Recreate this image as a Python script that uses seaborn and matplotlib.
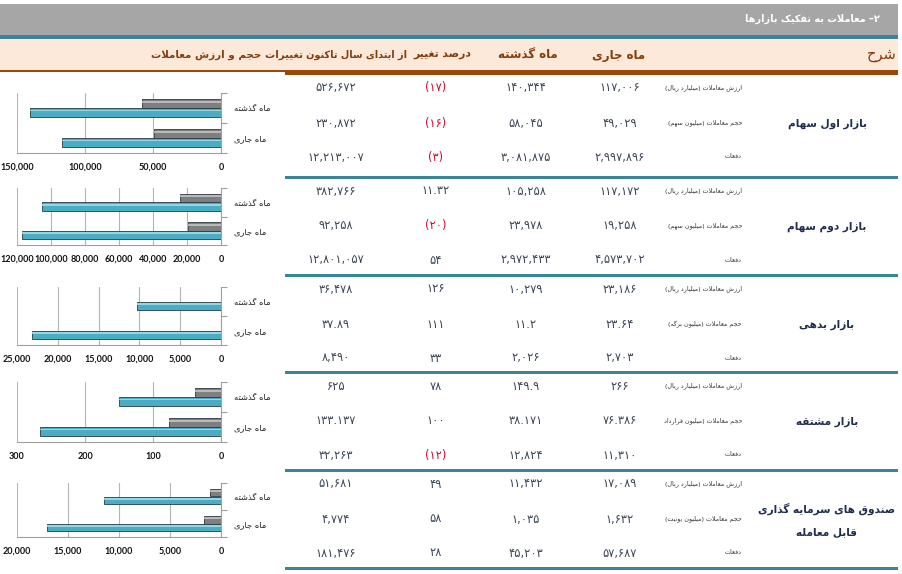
import re
import matplotlib
matplotlib.use("Agg")
import matplotlib.pyplot as plt
import matplotlib.patches as mpatches
from matplotlib.ticker import FuncFormatter, MultipleLocator, FixedLocator
import seaborn as sns
import pandas as pd

# ---------------- data ----------------
title = "۲– معاملات به تفکیک بازارها"
headers = ["شرح", "ماه جاری", "ماه گذشته", "درصد تغییر", "از ابتدای سال تاکنون", "تغییرات حجم و ارزش معاملات"]
sections = ["بازار اول سهام", "بازار دوم سهام", "بازار بدهی", "بازار مشتقه", "صندوق های سرمایه گذاری\nقابل معامله"]
value_label = "ارزش معاملات (میلیارد ریال)"
volume_labels = ["حجم معاملات (میلیون سهم)", "حجم معاملات (میلیون سهم)", "حجم معاملات (میلیون برگه)",
                 "حجم معاملات (میلیون قرارداد", "حجم معاملات (میلیون یونیت)"]
count_label = "دفعات"
periods = ["ماه گذشته", "ماه جاری"]

cur_value = [117006, 117172, 23186, 266, 17089]
last_value = [140344, 105258, 10279, 149.9, 11432]
pct_value = [-17, 11.32, 126, 78, 49]
ytd_value = [526672, 382766, 36478, 625, 51681]

cur_volume = [49029, 19258, 23.64, 76.386, 1632]
last_volume = [58045, 23978, 11.2, 38.171, 1035]
pct_volume = [-16, -20, 111, 100, 58]
ytd_volume = [230872, 92258, 37.89, 133.137, 4774]

cur_count = [2997896, 4573702, 2703, 11310, 57687]
last_count = [3081875, 2972433, 2026, 12824, 45203]
pct_count = [-3, 54, 33, -12, 28]
ytd_count = [12213007, 12801057, 8490, 32263, 181476]

chart_max = [150000, 120000, 25000, 300, 20000]
chart_step = [50000, 20000, 5000, 100, 5000]

# ---------------- minimal Arabic shaping + bidi ----------------
FORMS = {
    '\u0621': ('\uFE80', None, None, None),
    '\u0622': ('\uFE81', '\uFE82', None, None),
    '\u0623': ('\uFE83', '\uFE84', None, None),
    '\u0627': ('\uFE8D', '\uFE8E', None, None),
    '\u0628': ('\uFE8F', '\uFE90', '\uFE91', '\uFE92'),
    '\u067E': ('\uFB56', '\uFB57', '\uFB58', '\uFB59'),
    '\u062A': ('\uFE95', '\uFE96', '\uFE97', '\uFE98'),
    '\u062B': ('\uFE99', '\uFE9A', '\uFE9B', '\uFE9C'),
    '\u062C': ('\uFE9D', '\uFE9E', '\uFE9F', '\uFEA0'),
    '\u0686': ('\uFB7A', '\uFB7B', '\uFB7C', '\uFB7D'),
    '\u062D': ('\uFEA1', '\uFEA2', '\uFEA3', '\uFEA4'),
    '\u062E': ('\uFEA5', '\uFEA6', '\uFEA7', '\uFEA8'),
    '\u062F': ('\uFEA9', '\uFEAA', None, None),
    '\u0630': ('\uFEAB', '\uFEAC', None, None),
    '\u0631': ('\uFEAD', '\uFEAE', None, None),
    '\u0632': ('\uFEAF', '\uFEB0', None, None),
    '\u0698': ('\uFB8A', '\uFB8B', None, None),
    '\u0633': ('\uFEB1', '\uFEB2', '\uFEB3', '\uFEB4'),
    '\u0634': ('\uFEB5', '\uFEB6', '\uFEB7', '\uFEB8'),
    '\u0635': ('\uFEB9', '\uFEBA', '\uFEBB', '\uFEBC'),
    '\u0636': ('\uFEBD', '\uFEBE', '\uFEBF', '\uFEC0'),
    '\u0637': ('\uFEC1', '\uFEC2', '\uFEC3', '\uFEC4'),
    '\u0638': ('\uFEC5', '\uFEC6', '\uFEC7', '\uFEC8'),
    '\u0639': ('\uFEC9', '\uFECA', '\uFECB', '\uFECC'),
    '\u063A': ('\uFECD', '\uFECE', '\uFECF', '\uFED0'),
    '\u0641': ('\uFED1', '\uFED2', '\uFED3', '\uFED4'),
    '\u0642': ('\uFED5', '\uFED6', '\uFED7', '\uFED8'),
    '\u06A9': ('\uFB8E', '\uFB8F', '\uFB90', '\uFB91'),
    '\u0643': ('\uFED9', '\uFEDA', '\uFEDB', '\uFEDC'),
    '\u06AF': ('\uFB92', '\uFB93', '\uFB94', '\uFB95'),
    '\u0644': ('\uFEDD', '\uFEDE', '\uFEDF', '\uFEE0'),
    '\u0645': ('\uFEE1', '\uFEE2', '\uFEE3', '\uFEE4'),
    '\u0646': ('\uFEE5', '\uFEE6', '\uFEE7', '\uFEE8'),
    '\u0647': ('\uFEE9', '\uFEEA', '\uFEEB', '\uFEEC'),
    '\u0648': ('\uFEED', '\uFEEE', None, None),
    '\u06CC': ('\uFBFC', '\uFBFD', '\uFBFE', '\uFBFF'),
    '\u064A': ('\uFEF1', '\uFEF2', '\uFEF3', '\uFEF4'),
    '\u0629': ('\uFE93', '\uFE94', None, None),
}
LAMALEF = {'\u0627': ('\uFEFB', '\uFEFC'), '\u0622': ('\uFEF5', '\uFEF6'), '\u0623': ('\uFEF7', '\uFEF8')}


def _jn(c):
    return c in FORMS and FORMS[c][2] is not None


def _jp(c):
    return c in FORMS and FORMS[c][1] is not None


def shape(s):
    out, i, n = [], 0, len(s)
    while i < n:
        c = s[i]
        if c not in FORMS:
            out.append(c)
            i += 1
            continue
        prev = s[i - 1] if i > 0 else None
        cp = prev is not None and _jn(prev) and _jp(c)
        if c == '\u0644' and i + 1 < n and s[i + 1] in LAMALEF:
            iso, fin = LAMALEF[s[i + 1]]
            out.append(fin if cp else iso)
            i += 2
            continue
        nxt = s[i + 1] if i + 1 < n else None
        cn = nxt is not None and _jn(c) and _jp(nxt)
        iso, fin, ini, med = FORMS[c]
        out.append(med if (cp and cn) else fin if cp else ini if cn else iso)
        i += 1
    return ''.join(out)


MIRROR = {'(': ')', ')': '(', '[': ']', ']': '['}


def fa(s):
    lines = []
    for line in s.split('\n'):
        toks = re.findall(r'[0-9\u06F0-\u06F9]+(?:[.,][0-9\u06F0-\u06F9]+)*|.', shape(line))
        toks = [MIRROR.get(t, t) for t in reversed(toks)]
        lines.append(''.join(toks))
    return '\n'.join(lines)


PDIG = str.maketrans('0123456789', '۰۱۲۳۴۵۶۷۸۹')


def fnum(v):
    if isinstance(v, float):
        s = ('%r' % v)
    else:
        s = f"{v:,}"
    return s.translate(PDIG)


def fpct(v):
    s = fnum(abs(v) if isinstance(v, float) else abs(int(v)))
    return ('(' + s + ')') if v < 0 else s

# ---------------- styling ----------------
sns.set_theme(style="white")
plt.rcParams['font.family'] = ['DejaVu Sans']

W, H = 902, 574
fig = plt.figure(figsize=(W / 100, H / 100), dpi=100)
bg = fig.add_axes([0, 0, 1, 1])
bg.set_xlim(0, W)
bg.set_ylim(H, 0)
bg.axis('off')

GRAY = '#a6a6a6'
TEAL = '#3a8696'
PEACH = '#fde9d9'
BROWN = '#984807'
HEAD = '#843c0c'
NUM = '#3b4656'
RED = '#c8102e'
NAVY = '#1f2d4e'

bg.add_patch(mpatches.Rectangle((0, 4), 898, 31, color=GRAY, lw=0))
bg.add_patch(mpatches.Rectangle((0, 35), 898, 3.5, color=TEAL, lw=0))
bg.add_patch(mpatches.Rectangle((0, 38.5), 898, 32, color=PEACH, lw=0))
bg.add_patch(mpatches.Rectangle((0, 70), 285, 2, color=BROWN, lw=0))
bg.add_patch(mpatches.Rectangle((285, 70), 613, 4.5, color=BROWN, lw=0))

bg.text(880, 19, fa(title), color='white', fontsize=7.0, fontweight='bold', ha='right', va='center')

# header anchors: (x, ha, size)
hpos = [(897, 'right', 10.5), (619, 'center', 8.5), (528, 'center', 8.5),
        (471, 'right', 7.8), (407, 'right', 7.0), (303, 'right', 7.4)]
for i, (h, (x, ha, fs)) in enumerate(zip(headers, hpos)):
    bg.text(x, 55, fa(h), color=HEAD, fontsize=fs, fontweight='bold' if i else 'normal',
            ha=ha, va='center')

sec_top = [75, 178, 276, 373, 471]
sep_y = [177, 275, 372, 470, 568]
row_off = [13, 48, 82]
col_x = [620, 526, 436, 336]

for k in range(5):
    t = sec_top[k]
    rows = [
        (value_label, cur_value[k], last_value[k], pct_value[k], ytd_value[k]),
        (volume_labels[k], cur_volume[k], last_volume[k], pct_volume[k], ytd_volume[k]),
        (count_label, cur_count[k], last_count[k], pct_count[k], ytd_count[k]),
    ]
    for r, (lab, c, l, p, y) in enumerate(rows):
        yy = t + row_off[r]
        bg.text(742, yy, fa(lab), fontsize=4.6, color='#333333', ha='right', va='center')
        bg.text(col_x[0], yy, fnum(c), fontsize=8.3, color=NUM, ha='center', va='center')
        bg.text(col_x[1], yy, fnum(l), fontsize=8.3, color=NUM, ha='center', va='center')
        bg.text(col_x[2], yy, fpct(p), fontsize=8.3, color=RED if p < 0 else NUM, ha='center', va='center')
        bg.text(col_x[3], yy, fnum(y), fontsize=8.3, color=NUM, ha='center', va='center')
    bg.text(827, t + 49, fa(sections[k]), fontsize=7.6, fontweight='bold', color=NAVY,
            ha='center', va='center', linespacing=2.6)
    bg.add_patch(mpatches.Rectangle((285, sep_y[k] - 1.5), 613, 3.2, color=TEAL, lw=0))

# ---------------- small bar charts ----------------
chart_box = [(93, 153), (188, 245), (287, 345), (382, 442), (483, 537)]
X0, X1 = 17, 221
BLUE = '#4bacc6'
DGRAY = '#7f7f7f'
measures = ["حجم", "ارزش"]

for k in range(5):
    y0, y1 = chart_box[k]
    ax = fig.add_axes([X0 / W, 1 - y1 / H, (X1 - X0) / W, (y1 - y0) / H])
    ax.set_facecolor('none')
    df = pd.DataFrame({
        'period': periods * 2,
        'measure': [measures[0]] * 2 + [measures[1]] * 2,
        'value': [last_volume[k], cur_volume[k], last_value[k], cur_value[k]],
    })
    sns.barplot(data=df, y='period', x='value', hue='measure', order=periods, hue_order=measures,
                palette=[DGRAY, BLUE], orient='h', width=0.58, ax=ax, legend=False,
                edgecolor='#2b3a40', linewidth=0.6, saturation=1)
    for p in list(ax.patches):
        x, yb = p.get_x(), p.get_y()
        w, h = p.get_width(), p.get_height()
        light = '#a6e1ef' if p.get_facecolor()[2] > 0.6 else '#c8c8c8'
        ax.add_patch(mpatches.Rectangle((x, yb + h * 0.18), w, h * 0.22, color=light, lw=0, alpha=0.8, zorder=3))
    ax.set_xlim(chart_max[k], 0)
    ax.set_ylim(1.5, -0.5)
    ax.xaxis.set_major_locator(MultipleLocator(chart_step[k]))
    ax.xaxis.set_major_formatter(FuncFormatter(lambda v, pos: f"{v:,.0f}"))
    ax.grid(axis='x', color='#b4b4b4', lw=0.8)
    ax.grid(axis='y', visible=False)
    ax.set_axisbelow(True)
    for s in ['top', 'left']:
        ax.spines[s].set_visible(False)
    for s in ['bottom', 'right']:
        ax.spines[s].set_color('#a0a0a0')
        ax.spines[s].set_linewidth(0.8)
    ax.yaxis.tick_right()
    ax.set_yticks([0, 1])
    ax.set_yticklabels([fa(t) for t in periods], fontsize=6, color='#222222')
    ax.yaxis.set_minor_locator(FixedLocator([-0.5, 0.5, 1.5]))
    ax.tick_params(axis='y', which='major', length=0, pad=9)
    ax.tick_params(axis='y', which='minor', length=4, color='#a0a0a0', width=0.8, right=True, left=False)
    ax.tick_params(axis='x', length=3, color='#a0a0a0', width=0.8, pad=4, labelsize=6.5, labelcolor='#111111')
    for tl in ax.get_xticklabels():
        tl.set_fontweight('bold')
        tl.set_family('Lato')
    ax.set_xlabel('')
    ax.set_ylabel('')

fig.savefig('out.png', dpi=100)
